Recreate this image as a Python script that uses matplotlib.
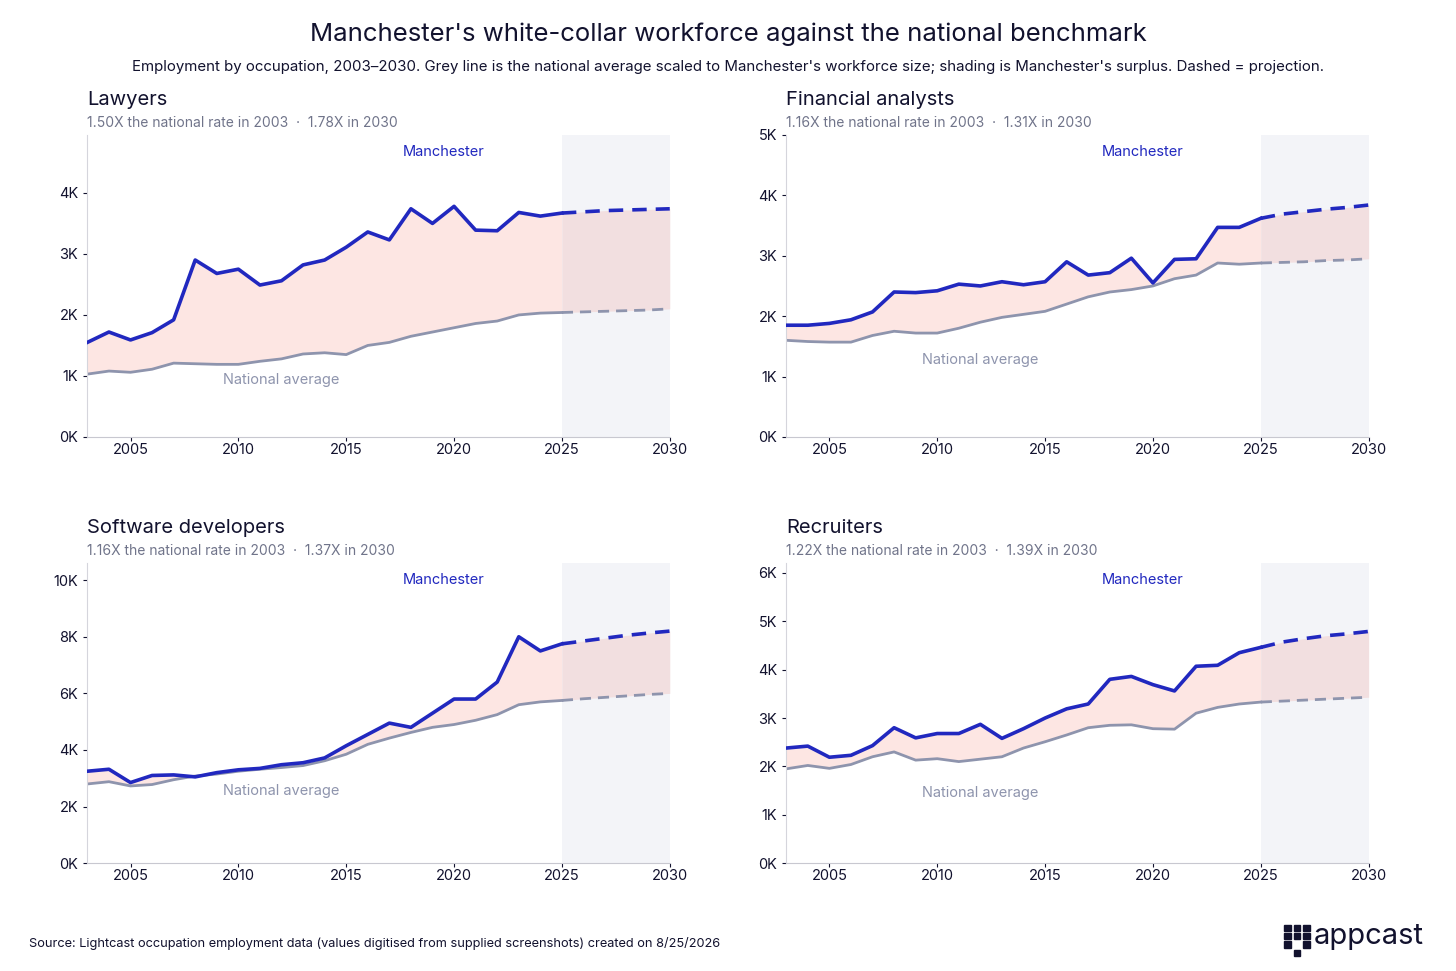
import numpy as np
import matplotlib.pyplot as plt

plt.rcParams['font.family'] = ['Inter', 'DejaVu Sans']

years = list(range(2003, 2026))
proj_years = list(range(2025, 2031))

titles = ['Lawyers', 'Financial analysts', 'Software developers', 'Recruiters']
subtitles = ['1.50X the national rate in 2003  ·  1.78X in 2030',
             '1.16X the national rate in 2003  ·  1.31X in 2030',
             '1.16X the national rate in 2003  ·  1.37X in 2030',
             '1.22X the national rate in 2003  ·  1.39X in 2030']

law_man = [1550, 1720, 1590, 1710, 1920, 2900, 2680, 2750, 2490, 2560, 2820, 2900,
           3110, 3360, 3230, 3740, 3500, 3780, 3390, 3380, 3680, 3620, 3670]
law_man_p = [3670, 3690, 3710, 3720, 3730, 3740]
law_nat = [1030, 1080, 1060, 1110, 1210, 1200, 1190, 1190, 1240, 1280, 1360, 1380,
           1350, 1500, 1550, 1650, 1720, 1790, 1860, 1900, 2000, 2030, 2040]
law_nat_p = [2040, 2050, 2060, 2070, 2080, 2100]

fin_man = [1850, 1850, 1880, 1940, 2070, 2400, 2390, 2420, 2530, 2500, 2570, 2520,
           2570, 2900, 2680, 2720, 2960, 2550, 2940, 2950, 3470, 3470, 3620]
fin_man_p = [3620, 3690, 3730, 3770, 3800, 3840]
fin_nat = [1600, 1580, 1570, 1570, 1680, 1750, 1720, 1720, 1800, 1900, 1980, 2030,
           2080, 2200, 2320, 2400, 2440, 2500, 2620, 2680, 2880, 2860, 2880]
fin_nat_p = [2880, 2890, 2900, 2920, 2930, 2950]

sw_man = [3250, 3320, 2850, 3100, 3120, 3050, 3200, 3300, 3350, 3480, 3550, 3720,
          4150, 4550, 4950, 4800, 5300, 5800, 5800, 6400, 8000, 7500, 7750]
sw_man_p = [7750, 7850, 7950, 8050, 8130, 8200]
sw_nat = [2800, 2880, 2730, 2780, 2950, 3080, 3150, 3250, 3320, 3380, 3450, 3620,
          3850, 4200, 4420, 4620, 4800, 4900, 5050, 5250, 5600, 5700, 5750]
sw_nat_p = [5750, 5810, 5860, 5910, 5960, 6000]

rec_man = [2380, 2420, 2190, 2230, 2430, 2800, 2590, 2680, 2680, 2870, 2580, 2780,
           3000, 3190, 3290, 3800, 3860, 3690, 3560, 4070, 4090, 4350, 4460]
rec_man_p = [4460, 4570, 4640, 4700, 4740, 4790]
rec_nat = [1950, 2020, 1960, 2040, 2200, 2300, 2130, 2160, 2100, 2150, 2200, 2380,
           2510, 2650, 2800, 2850, 2860, 2780, 2770, 3100, 3220, 3290, 3330]
rec_nat_p = [3330, 3350, 3370, 3390, 3410, 3430]

series = [(law_man, law_man_p, law_nat, law_nat_p),
          (fin_man, fin_man_p, fin_nat, fin_nat_p),
          (sw_man, sw_man_p, sw_nat, sw_nat_p),
          (rec_man, rec_man_p, rec_nat, rec_nat_p)]
ytops = [4950, 5000, 10600, 6200]
yticks = [range(0, 5000, 1000), range(0, 6000, 1000), range(0, 12000, 2000), range(0, 7000, 1000)]
nat_label_y = [0.19, 0.255, 0.24, 0.235]

BLUE = '#2128bf'
GREY = '#8e94ad'
FILL = '#fde6e3'
DARK = '#12122e'

fig = plt.figure(figsize=(14.56, 9.71), dpi=100)
rects = [[0.060, 0.550, 0.400, 0.311], [0.540, 0.550, 0.400, 0.311],
         [0.060, 0.111, 0.400, 0.309], [0.540, 0.111, 0.400, 0.309]]

for i, (m, mp, n, npj) in enumerate(series):
    ax = fig.add_axes(rects[i])
    ax.axvspan(2025, 2030, color='#f3f4f8', zorder=0, lw=0)
    ax.fill_between(years, n, m, color=FILL, lw=0, zorder=1)
    ax.fill_between(proj_years, npj, mp, color='#f2dfe0', lw=0, zorder=1)
    ax.plot(years, n, color=GREY, lw=2, zorder=2)
    ax.plot(proj_years, npj, color=GREY, lw=2, ls=(0, (4, 2.5)), zorder=2)
    ax.plot(years, m, color=BLUE, lw=2.6, zorder=3)
    ax.plot(proj_years, mp, color=BLUE, lw=2.6, ls=(0, (4, 2.5)), zorder=3)
    ax.set_xlim(2003, 2030)
    ax.set_ylim(0, ytops[i])
    ax.set_xticks([2005, 2010, 2015, 2020, 2025, 2030])
    ax.set_yticks(list(yticks[i]))
    ax.set_yticklabels(['%dK' % (v // 1000) for v in yticks[i]])
    for s in ['top', 'right']:
        ax.spines[s].set_visible(False)
    ax.spines['left'].set_color('#d5d5dc')
    ax.spines['bottom'].set_color('#c8c8d0')
    ax.tick_params(colors=DARK, labelsize=10.5, length=3, width=0.8)
    ax.tick_params(axis='x', pad=1)
    ax.text(2019.5, ytops[i] * 0.945, 'Manchester', color=BLUE, fontsize=10.5, ha='center', va='center')
    ax.text(2012.0, ytops[i] * nat_label_y[i], 'National average', color=GREY, fontsize=10.5, ha='center', va='center')
    ax.text(0, 1.116, titles[i], transform=ax.transAxes, fontsize=14.5, color=DARK, va='center')
    ax.text(0, 1.04, subtitles[i], transform=ax.transAxes, fontsize=10, color='#70748a', va='center')

fig.text(0.5, 0.965, "Manchester's white-collar workforce against the national benchmark",
         ha='center', va='center', fontsize=18.5, color=DARK)
fig.text(0.5, 0.931, "Employment by occupation, 2003\u20132030. Grey line is the national average scaled to "
         "Manchester's workforce size; shading is Manchester's surplus. Dashed = projection.",
         ha='center', va='center', fontsize=10.8, color=DARK)
fig.text(0.02, 0.028, 'Source: Lightcast occupation employment data (values digitised from supplied screenshots) created on 8/25/2026',
         ha='left', va='center', fontsize=9.2, color=DARK)
fig.text(0.978, 0.036, 'appcast', ha='right', va='center', fontsize=21, color=DARK)
# logo dots
for (dx, dy) in [(0, 0), (0, 1), (0, 2), (1, 1), (1, 2), (1, -1), (2, 0), (2, 1), (2, 2)]:
    fig.patches.append(plt.Rectangle((0.882 + dx * 0.0065, 0.024 + dy * 0.0085), 0.0045, 0.0065,
                                     transform=fig.transFigure, color=DARK))

fig.savefig('out.png', dpi=100)
